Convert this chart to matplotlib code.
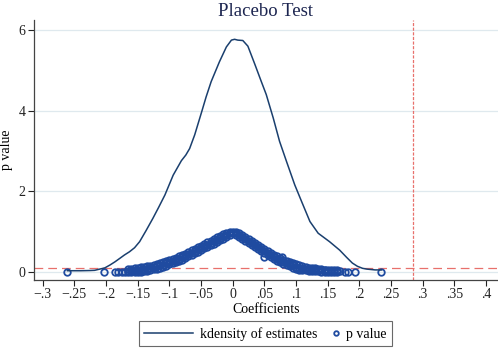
import matplotlib.pyplot as plt
from matplotlib.legend_handler import HandlerLine2D

plt.rcParams['font.family'] = ['Liberation Serif', 'DejaVu Serif']

# kernel density of placebo estimates
kd_x = [-0.261, -0.24, -0.225, -0.218, -0.210, -0.202, -0.194, -0.186, -0.178, -0.171,
        -0.163, -0.155, -0.147, -0.137, -0.126, -0.117, -0.107, -0.094, -0.081, -0.074,
        -0.068, -0.060, -0.049, -0.042, -0.034, -0.021, -0.010, -0.002, 0.003, 0.008,
        0.016, 0.024, 0.035, 0.045, 0.053, 0.064, 0.074, 0.085, 0.098, 0.109,
        0.122, 0.135, 0.153, 0.169, 0.180, 0.189, 0.197, 0.205, 0.212, 0.225, 0.235]
kd_y = [0.03, 0.03, 0.035, 0.04, 0.07, 0.10, 0.17, 0.25, 0.34, 0.42,
        0.50, 0.60, 0.75, 1.02, 1.33, 1.60, 1.91, 2.40, 2.76, 2.90,
        3.06, 3.40, 3.97, 4.34, 4.72, 5.21, 5.58, 5.75, 5.77, 5.75,
        5.74, 5.60, 5.15, 4.73, 4.40, 3.82, 3.24, 2.74, 2.16, 1.74,
        1.25, 0.96, 0.75, 0.54, 0.36, 0.22, 0.14, 0.09, 0.07, 0.05, 0.05]

# placebo coefficients and p values: the dense band left and right of zero
left_c = [-0.165, -0.160, -0.155, -0.150, -0.145, -0.140, -0.135, -0.130, -0.125, -0.120,
          -0.115, -0.110, -0.105, -0.100, -0.095, -0.090, -0.085, -0.080, -0.075, -0.070,
          -0.065, -0.060, -0.055, -0.050, -0.045, -0.040, -0.035, -0.030, -0.025, -0.020,
          -0.015, -0.010, -0.005]
left_mid = [0.025, 0.03, 0.04, 0.05, 0.06, 0.07, 0.085, 0.10, 0.12, 0.14,
            0.16, 0.18, 0.21, 0.24, 0.27, 0.30, 0.33, 0.36, 0.40, 0.44,
            0.48, 0.52, 0.56, 0.60, 0.64, 0.68, 0.72, 0.76, 0.80, 0.84,
            0.88, 0.92, 0.96]
left_hi = [0.08, 0.085, 0.095, 0.105, 0.115, 0.125, 0.14, 0.155, 0.175, 0.195,
           0.215, 0.235, 0.265, 0.295, 0.325, 0.355, 0.385, 0.415, 0.455, 0.495,
           0.535, 0.575, 0.615, 0.655, 0.695, 0.735, 0.775, 0.815, 0.855, 0.895,
           0.935, 0.975, 1.00]
left_lo = [0.005, 0.005, 0.005, 0.005, 0.005, 0.015, 0.03, 0.045, 0.065, 0.085,
           0.105, 0.125, 0.155, 0.185, 0.215, 0.245, 0.275, 0.305, 0.345, 0.385,
           0.425, 0.465, 0.505, 0.545, 0.585, 0.625, 0.665, 0.705, 0.745, 0.785,
           0.825, 0.865, 0.905]

right_c = [0.005, 0.010, 0.015, 0.020, 0.025, 0.030, 0.035, 0.040, 0.045, 0.050,
           0.055, 0.060, 0.065, 0.070, 0.075, 0.080, 0.085, 0.090, 0.095, 0.100,
           0.105, 0.110, 0.115, 0.120, 0.125, 0.130, 0.135, 0.140, 0.145, 0.150,
           0.155, 0.160, 0.165]
right_mid = [0.96, 0.92, 0.87, 0.82, 0.77, 0.72, 0.67, 0.62, 0.57, 0.52,
             0.47, 0.42, 0.37, 0.33, 0.29, 0.25, 0.22, 0.19, 0.16, 0.13,
             0.11, 0.09, 0.08, 0.07, 0.06, 0.05, 0.05, 0.04, 0.04, 0.03,
             0.03, 0.02, 0.02]
right_hi = [1.00, 0.975, 0.925, 0.875, 0.825, 0.775, 0.725, 0.675, 0.625, 0.575,
            0.525, 0.475, 0.425, 0.385, 0.345, 0.305, 0.275, 0.245, 0.215, 0.185,
            0.16, 0.14, 0.12, 0.11, 0.10, 0.09, 0.08, 0.07, 0.06, 0.05,
            0.05, 0.04, 0.04]
right_lo = [0.905, 0.865, 0.815, 0.765, 0.715, 0.665, 0.615, 0.565, 0.515, 0.465,
            0.415, 0.365, 0.315, 0.275, 0.235, 0.195, 0.165, 0.135, 0.105, 0.08,
            0.06, 0.045, 0.04, 0.03, 0.02, 0.02, 0.015, 0.01, 0.01, 0.01,
            0.005, 0.005, 0.005]

# the scattered ones in the tails, plus the peak and a few strays
other_c = [-0.262, -0.204, -0.186, -0.181, -0.175, -0.170, 0.0, 0.0,
           0.170, 0.177, 0.182, 0.193, 0.234, 0.050, 0.078]
other_p = [0.00, 0.00, 0.01, 0.00, 0.01, 0.01, 1.00, 0.97,
           0.02, 0.01, 0.01, 0.00, 0.00, 0.38, 0.36]

true_coef = 0.284
p_cut = 0.1

xticks = [-0.3, -0.25, -0.2, -0.15, -0.1, -0.05, 0, 0.05, 0.1, 0.15, 0.2, 0.25, 0.3, 0.35, 0.4]
xlabels = ['\u2212.3', '\u2212.25', '\u2212.2', '\u2212.15', '\u2212.1', '\u2212.05', '0',
           '.05', '.1', '.15', '.2', '.25', '.3', '.35', '.4']
yticks = [0, 2, 4, 6]

navy = '#1a3f6e'
blue = '#1f4ba0'
red = '#e8706c'

coefs = left_c * 3 + right_c * 3 + other_c
pvals = left_hi + left_mid + left_lo + right_hi + right_mid + right_lo + other_p


class MarkerAtEnd(HandlerLine2D):
    # put the legend marker at the right end of the handle, like Stata does
    def get_xdata(self, legend, xdescent, ydescent, width, height, fontsize):
        x = width - xdescent - 2
        return [x - 2, x + 2], [x]


fig = plt.figure(figsize=(4.98, 3.5), dpi=100)
ax = fig.add_axes([0.068, 0.2, 0.932, 0.743])

for y in yticks:
    ax.axhline(y, color='#dfe9ee', lw=0.9, zorder=0)

ax.plot(kd_x, kd_y, color=navy, lw=1.1, label='kdensity of estimates', zorder=3)
pts, = ax.plot(coefs, pvals, ls='none', marker='o', ms=4.7, mfc='none', mec=blue, mew=1.3,
               label='p value', zorder=2)

ax.axhline(p_cut, color=red, lw=0.9, dashes=(7, 4), zorder=1)
ax.axvline(true_coef, color=red, lw=0.9, dashes=(2.5, 1.2), zorder=1)

ax.set_xlim(-0.314, 0.419)
ax.set_ylim(-0.2, 6.25)
ax.set_xticks(xticks)
ax.set_xticklabels(xlabels)
ax.set_yticks(yticks)
ax.tick_params(labelsize=10, colors='#222222', length=4, width=0.8, pad=2)

for s in ['top', 'right']:
    ax.spines[s].set_visible(False)
for s in ['left', 'bottom']:
    ax.spines[s].set_color('#444444')
    ax.spines[s].set_linewidth(0.9)

ax.set_title('Placebo Test', fontsize=13.5, color='#1c2550', pad=3)
ax.set_xlabel('Coefficients', fontsize=10, labelpad=1)
ax.set_ylabel('p value', fontsize=10, labelpad=4)

leg = fig.legend(loc='center', bbox_to_anchor=(0.533, 0.046), ncol=2, fontsize=10,
                 frameon=True, fancybox=False, edgecolor='#444444', handlelength=3.5,
                 handletextpad=0.55, columnspacing=-2.0, borderpad=0.4, markerscale=0.7,
                 handler_map={pts: MarkerAtEnd(numpoints=1)})
leg.get_frame().set_linewidth(0.8)

fig.savefig('out.png', dpi=100)
